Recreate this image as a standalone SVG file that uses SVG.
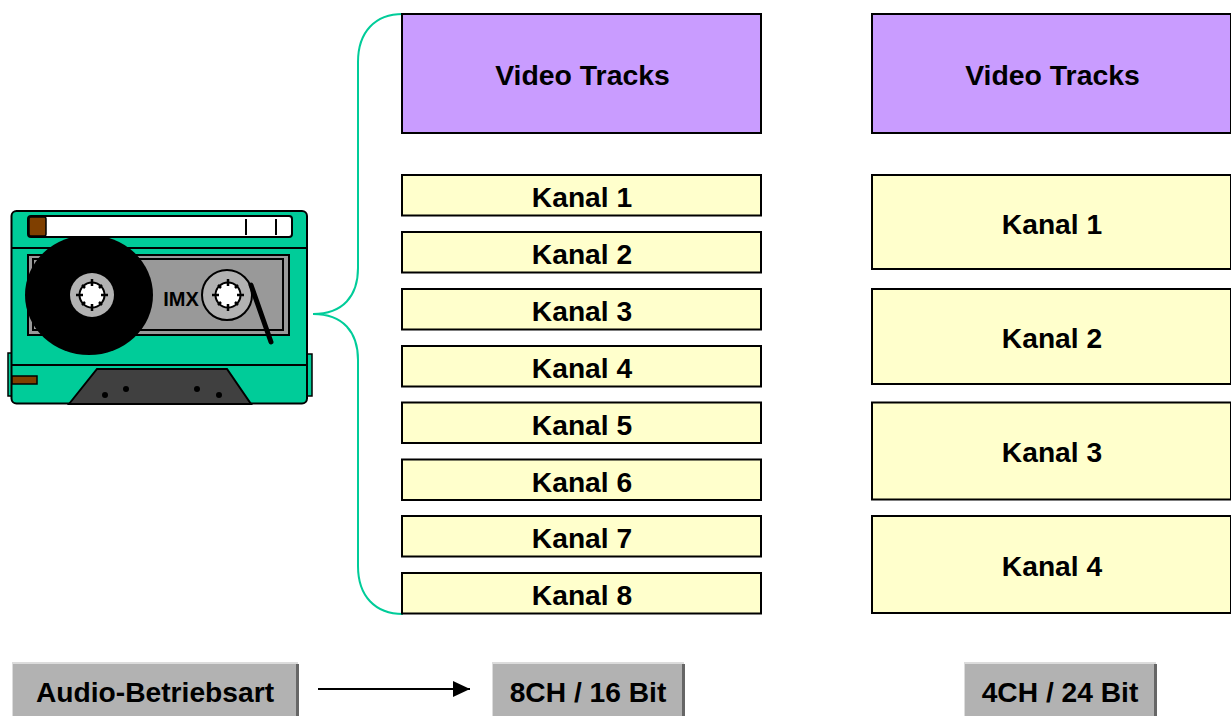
<svg xmlns="http://www.w3.org/2000/svg" width="1231" height="716" viewBox="0 0 1231 716">
<style>
text{font-family:"Liberation Sans",Arial,sans-serif;font-weight:700;fill:#000;text-anchor:middle}
.v{fill:#c99cff;stroke:#000;stroke-width:2}
.k{fill:#ffffcc;stroke:#000;stroke-width:2}
.t{font-size:28.4px}
.l{font-size:28.2px}
.g{fill:#b2b2b2}
.gl{fill:#dcdcdc}
.gd{fill:#666}
</style>
<defs>
<marker id="ah" markerWidth="18" markerHeight="18" refX="17" refY="8" orient="auto" markerUnits="userSpaceOnUse"><path d="M0 0L17 8L0 16Z" fill="#000"/></marker>
<g id="hub">
<circle r="12.500" fill="#fff" stroke="#000" stroke-width="2"/>
<path d="M0-16V-9M0 16V9M-16 0H-9M16 0H9M-10-10L-7-7M10-10L7-7M-10 10L-7 7M10 10L7 7" stroke="#000" stroke-width="2.500"/>
</g>
</defs>
<g id="connectors">
<path d="M403 14C375 14 358 32 358 62V268C358 296 343 314 313 314C343 314 358 332 358 360V566C358 596 375 614 403 614" fill="none" stroke="#00cc99" stroke-width="2"/>
<path d="M318 689H470" fill="none" stroke="#000" stroke-width="2" marker-end="url(#ah)"/>
</g>
<g id="cassette">
<rect x="8" y="353" width="5" height="43" fill="#00cc99" stroke="#000" stroke-width="1.500"/>
<rect x="307" y="354" width="5" height="42" fill="#00cc99" stroke="#000" stroke-width="1.500"/>
<rect x="11.500" y="211" width="295.500" height="192.500" rx="5" fill="#00cc99" stroke="#000" stroke-width="2"/>
<path d="M12 248H307M12 365H307" fill="none" stroke="#000" stroke-width="2"/>
<rect x="28" y="255" width="261" height="80" fill="#999" stroke="#000" stroke-width="2"/>
<rect x="33" y="259" width="250" height="71" fill="#999" stroke="#000" stroke-width="2"/>
<ellipse cx="89" cy="295" rx="64" ry="60" fill="#000"/>
<rect x="28" y="216" width="264" height="21" rx="3" fill="#fff" stroke="#000" stroke-width="2"/>
<rect x="29" y="217" width="17" height="19" rx="2" fill="#7f3f00" stroke="#000" stroke-width="1.500"/>
<path d="M246 219V235M276 219V235" stroke="#000" stroke-width="2"/>
<circle cx="92" cy="295" r="22" fill="#b2b2b2"/>
<use href="#hub" x="92" y="295"/>
<text x="181" y="306" style="font-size:20px">IMX</text>
<circle cx="227" cy="295" r="25" fill="#b2b2b2" stroke="#000" stroke-width="2"/>
<use href="#hub" x="228" y="295"/>
<path d="M251 285L271 342" fill="none" stroke="#000" stroke-width="5" stroke-linecap="round"/>
<path d="M69 404L97 369H227L251 404Z" fill="#404040" stroke="#000" stroke-width="2"/>
<rect x="12" y="376" width="25" height="8" fill="#7f3f00" stroke="#000" stroke-width="1.500"/>
<circle cx="105" cy="395" r="3" fill="#000"/><circle cx="126" cy="389" r="3" fill="#000"/><circle cx="197" cy="389" r="3" fill="#000"/><circle cx="219" cy="395" r="3" fill="#000"/>
</g>
<g id="video1"><rect class="v" x="402" y="14" width="359" height="119"/><text class="t" x="582.500" y="85">Video Tracks</text></g>
<g id="video2"><rect class="v" x="872" y="14" width="359" height="119"/><text class="t" x="1052.500" y="85">Video Tracks</text></g>
<g id="k8-1"><rect class="k" x="402" y="175" width="359" height="40.500"/><text class="l" x="582" y="207">Kanal 1</text></g>
<g id="k8-2"><rect class="k" x="402" y="232" width="359" height="40.500"/><text class="l" x="582" y="264">Kanal 2</text></g>
<g id="k8-3"><rect class="k" x="402" y="289" width="359" height="40.500"/><text class="l" x="582" y="321">Kanal 3</text></g>
<g id="k8-4"><rect class="k" x="402" y="346" width="359" height="40.500"/><text class="l" x="582" y="378">Kanal 4</text></g>
<g id="k8-5"><rect class="k" x="402" y="402.500" width="359" height="40.500"/><text class="l" x="582" y="435">Kanal 5</text></g>
<g id="k8-6"><rect class="k" x="402" y="459.500" width="359" height="40.500"/><text class="l" x="582" y="492">Kanal 6</text></g>
<g id="k8-7"><rect class="k" x="402" y="516" width="359" height="40.500"/><text class="l" x="582" y="548">Kanal 7</text></g>
<g id="k8-8"><rect class="k" x="402" y="573" width="359" height="40.500"/><text class="l" x="582" y="605">Kanal 8</text></g>
<g id="k4-1"><rect class="k" x="872" y="175" width="359" height="94"/><text class="l" x="1052" y="234">Kanal 1</text></g>
<g id="k4-2"><rect class="k" x="872" y="289" width="359" height="95"/><text class="l" x="1052" y="348">Kanal 2</text></g>
<g id="k4-3"><rect class="k" x="872" y="402.500" width="359" height="97"/><text class="l" x="1052" y="462">Kanal 3</text></g>
<g id="k4-4"><rect class="k" x="872" y="516" width="359" height="97"/><text class="l" x="1052" y="576">Kanal 4</text></g>
<g id="audio"><rect class="gl" x="12" y="662" width="286" height="54"/><rect class="gd" x="296" y="664" width="3" height="52"/><rect class="g" x="13" y="664" width="283" height="52"/><text class="l" x="155" y="702">Audio-Betriebsart</text></g>
<g id="ch8"><rect class="gl" x="492" y="662" width="192" height="54"/><rect class="gd" x="682" y="664" width="3" height="52"/><rect class="g" x="493" y="664" width="189" height="52"/><text class="l" x="588" y="702">8CH / 16 Bit</text></g>
<g id="ch4"><rect class="gl" x="964" y="662" width="192" height="54"/><rect class="gd" x="1154" y="664" width="3" height="52"/><rect class="g" x="965" y="664" width="189" height="52"/><text class="l" x="1060" y="702">4CH / 24 Bit</text></g>
</svg>
